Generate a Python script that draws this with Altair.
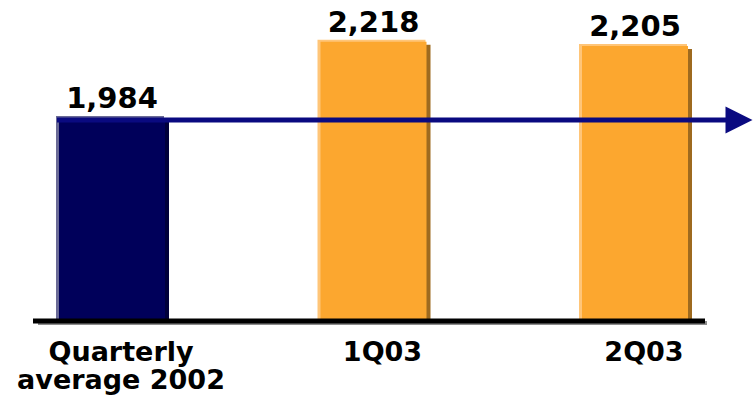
import altair as alt
import pandas as pd

# Quarterly volumes: 2002 average vs. the first two quarters of 2003
periods = ["Quarterly\naverage 2002", "1Q03", "2Q03"]
kinds = ["average", "quarter", "quarter"]
values = [1984, 2218, 2205]

# Value axis floor/ceiling (the chart is drawn on a truncated scale)
y_floor = 1362
y_ceiling = 2346

df = pd.DataFrame({"period": periods, "kind": kinds, "value": values})
avg_value = values[0]

FONT = "DejaVu Sans"

x_enc = alt.X("period:N", sort=periods, axis=None,
              scale=alt.Scale(type="point", range=[112, 635], padding=0))
y_scale = alt.Scale(domain=[y_floor, y_ceiling], zero=False, nice=False)
y_enc = alt.Y("value:Q", scale=y_scale, axis=None)

base = alt.Chart(df)


def bar_layer(colors, size, **offsets):
    return base.mark_bar(size=size, **offsets).encode(
        x=x_enc,
        y=y_enc,
        y2=alt.datum(y_floor),
        color=alt.Color("kind:N", legend=None,
                        scale=alt.Scale(domain=["average", "quarter"], range=colors)),
    )


# bevel: light edge up-left, dark shadow down-right, face on top
highlight = bar_layer(["#6a6a96", "#ffc578"], 108, xOffset=-2, yOffset=-2, y2Offset=-2)
shadow = bar_layer(["#00003a", "#9e6a1f"], 108, xOffset=3, yOffset=3, y2Offset=3)
face = bar_layer(["#00005a", "#fca72f"], 106)

axis_line_shadow = alt.Chart(pd.DataFrame({"v": [y_floor]})).mark_rule(
    color="#8c8c8c", strokeWidth=4, yOffset=2
).encode(x=alt.value(38), x2=alt.value(707), y=alt.Y("v:Q", scale=y_scale, axis=None))

axis_line = alt.Chart(pd.DataFrame({"v": [y_floor]})).mark_rule(
    color="#000000", strokeWidth=5
).encode(x=alt.value(33), x2=alt.value(705), y=alt.Y("v:Q", scale=y_scale, axis=None))

# trend arrow at the 2002 average level
arrow_df = pd.DataFrame({"v": [avg_value]})
arrow_line = alt.Chart(arrow_df).mark_rule(
    color="#0a0a80", strokeWidth=5, yOffset=2
).encode(x=alt.value(57), x2=alt.value(728), y=alt.Y("v:Q", scale=y_scale, axis=None))

arrow_head = alt.Chart(arrow_df).mark_point(
    shape="M-1,-1L1,0L-1,1Z", filled=True, opacity=1, color="#0a0a80",
    size=729, yOffset=2
).encode(x=alt.value(739), y=alt.Y("v:Q", scale=y_scale, axis=None))

value_labels = base.mark_text(
    font=FONT, fontWeight="bold", fontSize=29, color="#000000",
    baseline="alphabetic", dy=-10, align="center"
).encode(x=x_enc, y=y_enc, text=alt.Text("value:Q", format=",d"))

period_labels = base.mark_text(
    font=FONT, fontWeight="bold", fontSize=27, color="#000000",
    baseline="alphabetic", align="center", dx=9, lineBreak="\n", lineHeight=28
).encode(x=x_enc, y=alt.value(361), text="period:N")

chart = alt.layer(
    highlight, shadow, face,
    axis_line_shadow, axis_line,
    arrow_line, arrow_head,
    value_labels, period_labels,
).resolve_scale(
    color="independent"
).properties(
    width=753, height=321,
    padding={"left": 0, "top": 0, "right": 0, "bottom": 78},
    autosize=alt.AutoSizeParams(type="none"),
).configure_view(stroke=None)

chart.save("out.html", embed_options={"renderer": "svg", "actions": False})
